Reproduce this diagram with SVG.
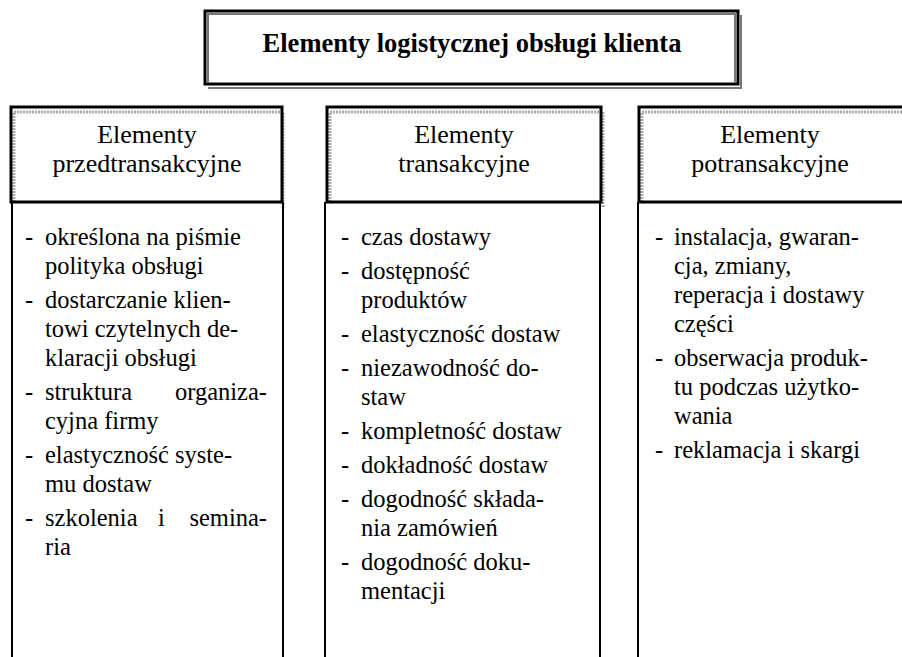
<svg xmlns="http://www.w3.org/2000/svg" width="902" height="657" viewBox="0 0 902 657">
<style>
text{font-family:"Liberation Serif","Times New Roman",serif;fill:#000}
.t{font-size:26.5px;font-weight:bold}
.h{font-size:26px;text-anchor:middle}
.b{font-size:24.5px}
.blk{fill:none;stroke:#000;stroke-width:3}
.gry{fill:none;stroke:#777;stroke-width:2}
.hat{fill:none;stroke:#aaa;stroke-width:3;stroke-dasharray:2 1}
.ln{stroke:#000;stroke-width:2}
</style>
<rect width="902" height="657" fill="#fff"/>
<g id="title">
<rect class="blk" x="205" y="11" width="533" height="73"/>
<polyline class="gry" points="208,83 208,14 735,14 735,83"/>
<polyline class="gry" points="208,88 741,88 741,15"/>
<text class="t" x="472" y="52" text-anchor="middle">Elementy logistycznej obsługi klienta</text>
</g>
<g id="col1">
<polyline class="hat" points="14,202 14,112 283,112 283,208"/>
<rect class="blk" x="11" y="107" width="271" height="95"/>
<text class="h" x="147" y="143">Elementy</text>
<text class="h" x="147" y="172">przedtransakcyjne</text>
<line class="ln" x1="12" y1="202" x2="12" y2="657"/>
<line class="ln" x1="283" y1="202" x2="283" y2="657"/>
<g class="b">
<text x="25" y="245">-</text><text x="45" y="245">określona na piśmie</text>
<text x="45" y="274">polityka obsługi</text>
<text x="25" y="308">-</text><text x="45" y="308">dostarczanie klien-</text>
<text x="45" y="337">towi czytelnych de-</text>
<text x="45" y="366">klaracji obsługi</text>
<text x="25" y="400">-</text><text x="45" y="400">struktura</text><text x="267" y="400" text-anchor="end">organiza-</text>
<text x="45" y="429">cyjna firmy</text>
<text x="25" y="463">-</text><text x="45" y="463">elastyczność syste-</text>
<text x="45" y="492">mu dostaw</text>
<text x="25" y="526">-</text><text x="45" y="526">szkolenia</text><text x="158" y="526">i</text><text x="267" y="526" text-anchor="end">semina-</text>
<text x="45" y="555">ria</text>
</g>
</g>
<g id="col2">
<polyline class="hat" points="330,202 330,112 603,112 603,208"/>
<rect class="blk" x="327" y="107" width="274" height="95"/>
<text class="h" x="464" y="143">Elementy</text>
<text class="h" x="464" y="172">transakcyjne</text>
<line class="ln" x1="325" y1="202" x2="325" y2="657"/>
<line class="ln" x1="600" y1="202" x2="600" y2="657"/>
<g class="b">
<text x="341" y="245">-</text><text x="361" y="245">czas dostawy</text>
<text x="341" y="279">-</text><text x="361" y="279">dostępność</text>
<text x="361" y="308">produktów</text>
<text x="341" y="342">-</text><text x="361" y="342">elastyczność dostaw</text>
<text x="341" y="376">-</text><text x="361" y="376">niezawodność do-</text>
<text x="361" y="405">staw</text>
<text x="341" y="439">-</text><text x="361" y="439">kompletność dostaw</text>
<text x="341" y="473">-</text><text x="361" y="473">dokładność dostaw</text>
<text x="341" y="507">-</text><text x="361" y="507">dogodność składa-</text>
<text x="361" y="536">nia zamówień</text>
<text x="341" y="570">-</text><text x="361" y="570">dogodność doku-</text>
<text x="361" y="599">mentacji</text>
</g>
</g>
<g id="col3">
<polyline class="hat" points="642,202 642,112 902,112"/>
<rect class="blk" x="639" y="107" width="266" height="95"/>
<text class="h" x="770" y="143">Elementy</text>
<text class="h" x="770" y="172">potransakcyjne</text>
<line class="ln" x1="638" y1="202" x2="638" y2="657"/>
<g class="b">
<text x="655" y="245">-</text><text x="674" y="245">instalacja, gwaran-</text>
<text x="674" y="274">cja, zmiany,</text>
<text x="674" y="303">reperacja i dostawy</text>
<text x="674" y="332">części</text>
<text x="655" y="366">-</text><text x="674" y="366">obserwacja produk-</text>
<text x="674" y="395">tu podczas użytko-</text>
<text x="674" y="424">wania</text>
<text x="655" y="458">-</text><text x="674" y="458">reklamacja i skargi</text>
</g>
</g>
</svg>
